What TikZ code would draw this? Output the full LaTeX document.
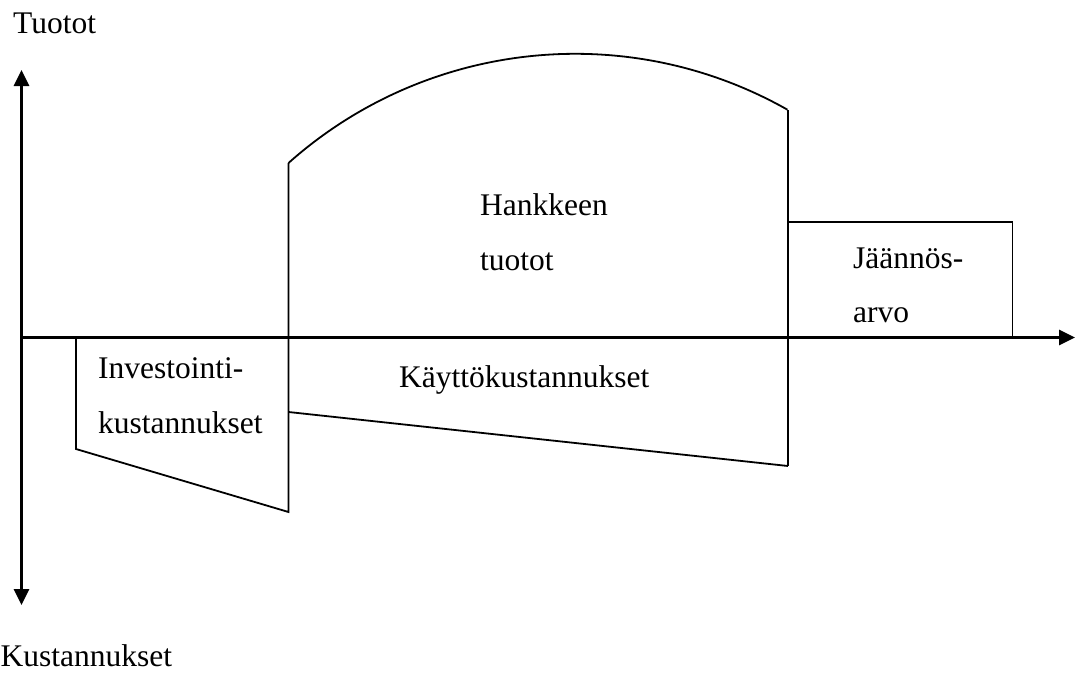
\documentclass[tikz,border=0pt]{standalone}
\usepackage{fontspec}
\setmainfont{Liberation Serif}
\usetikzlibrary{arrows.meta}
\tikzset{
  axis/.style={line width=2.7pt, -{Triangle[length=16pt,width=15pt]}},
  axisboth/.style={line width=2.7pt, {Triangle[length=16pt,width=15pt]}-{Triangle[length=16pt,width=15pt]}},
  edge/.style={line width=1.8pt, line join=miter},
  lbl/.style={inner sep=0pt, anchor=base west, font=\fontsize{31.5}{38}\selectfont}
}
\begin{document}
\begin{tikzpicture}[x=1pt,y=-1pt]
\useasboundingbox (0,0) rectangle (1076,672);
% axes
\coordinate (vtop) at (21.5,70);
\coordinate (vbot) at (21.5,605);
\coordinate (horg) at (21.5,337.5);
\coordinate (hend) at (1075,337.5);
\draw[axisboth] (vbot) -- (vtop);
\draw[axis] (horg) -- (hend);
% investment costs
\coordinate (i1) at (76,337.5);
\coordinate (i2) at (76,449);
\coordinate (i3) at (288.5,512);
\coordinate (i4) at (288.5,163);
\draw[edge] (i1) -- (i2) -- (i3) -- (i4);
% revenue hump
\draw[edge] (i4) arc[start angle=-131.7, end angle=-60.5, radius=431] coordinate (r1);
\coordinate (r2) at (788,466);
\draw[edge] (788,110) -- (r2);
% operating costs line
\coordinate (o1) at (288.5,412);
\draw[edge] (o1) -- (r2);
% residual value box
\coordinate (j1) at (788,222);
\coordinate (j2) at (1012.5,222);
\coordinate (j3) at (1012.5,337.5);
\draw[edge] (j1) -- (j2) -- (j3);
% labels
\node[lbl] (tuotot) at (13,33) {Tuotot};
\node[lbl] (kust) at (0.5,666) {Kustannukset};
\node[lbl] (inv1) at (98,378) {Investointi-};
\node[lbl] (inv2) at (98,433) {kustannukset};
\node[lbl] (hank1) at (480,215) {Hankkeen};
\node[lbl] (hank2) at (480,270) {tuotot};
\node[lbl] (kayt) at (399,387) {Käyttökustannukset};
\node[lbl] (jaan1) at (853,268) {Jäännös-};
\node[lbl] (jaan2) at (853,322) {arvo};
\end{tikzpicture}
\end{document}
